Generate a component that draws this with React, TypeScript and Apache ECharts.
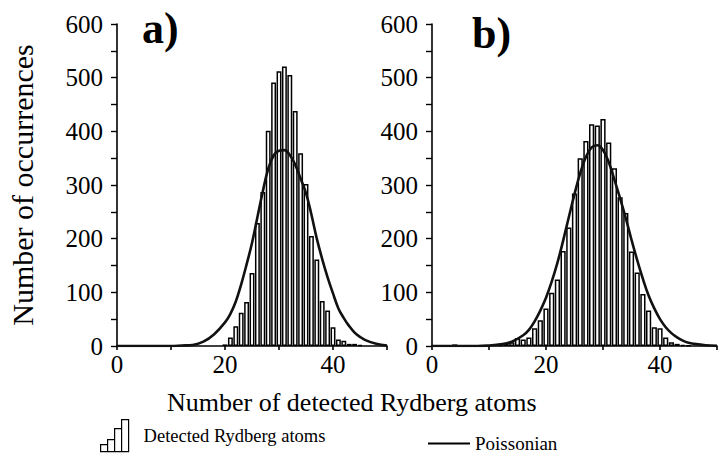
import React, { useEffect, useRef } from "react";
import * as echarts from "echarts";

// Panel a) histogram
const histAX = [20, 21, 22, 23, 24, 25, 26, 27, 28, 29, 30, 31, 32, 33, 34, 35, 36, 37, 38, 39, 40, 41, 42, 43, 44, 45];
const histAY = [3, 16, 37, 62, 82, 136, 229, 287, 401, 491, 512, 521, 505, 438, 359, 302, 205, 161, 84, 66, 35, 12, 10, 4, 4, 2];
// Panel a) Poissonian
const poisAX = [0, 10, 12, 14, 16, 18, 20, 21, 22, 23, 24, 25, 26, 27, 28, 29, 30, 31, 32, 33, 34, 35, 36, 37, 38, 39, 40, 41, 42, 43, 44, 45, 46, 48, 50];
const poisAY = [0, 0, 1, 2, 8, 22, 44, 60, 83, 115, 152, 192, 240, 288, 330, 355, 364, 365, 356, 338, 312, 285, 245, 200, 162, 128, 98, 70, 52, 37, 25, 17, 11, 4, 1];

// Panel b) histogram
const histBX = [4, 12, 13, 14, 15, 16, 17, 18, 19, 20, 21, 22, 23, 24, 25, 26, 27, 28, 29, 30, 31, 32, 33, 34, 35, 36, 37, 38, 39, 40, 41, 42, 43, 44, 45];
const histBY = [3, 2, 4, 7, 15, 12, 16, 33, 48, 70, 99, 124, 177, 221, 284, 350, 382, 413, 411, 423, 379, 331, 277, 248, 176, 137, 97, 66, 35, 33, 16, 7, 4, 2, 1];
// Panel b) Poissonian
const poisBX = [0, 8, 10, 12, 14, 16, 17, 18, 19, 20, 21, 22, 23, 24, 25, 26, 27, 28, 29, 30, 31, 32, 33, 34, 35, 36, 37, 38, 39, 40, 41, 42, 43, 44, 45, 46, 48, 50];
const poisBY = [0, 0, 1, 3, 8, 20, 30, 46, 66, 90, 120, 155, 196, 240, 283, 322, 352, 370, 374, 365, 343, 310, 275, 238, 198, 160, 125, 94, 70, 50, 35, 24, 16, 10, 6, 4, 1.5, 0.5];

const xTicks = [0, 20, 40];
const yTicks = [0, 100, 200, 300, 400, 500, 600];

const SERIF = "Liberation Serif, Times New Roman, serif";

const zip = (xs: number[], ys: number[]) => xs.map((x, i) => [x, ys[i]]);

export default function App() {
  const ref = useRef<HTMLDivElement>(null);
  useEffect(() => {
    if (!ref.current) return;
    const chart = echarts.init(ref.current, null, { renderer: "svg" });
    const axisLine = { show: true, lineStyle: { color: "#000", width: 1.6 } };
    const mkX = (idx: number) => ({
      type: "value",
      gridIndex: idx,
      min: 0,
      max: 50,
      interval: 10,
      axisLine,
      axisTick: { show: true, length: 4, lineStyle: { color: "#000", width: 1.6 } },
      axisLabel: {
        color: "#000",
        fontFamily: SERIF,
        fontSize: 25,
        margin: 6,
        formatter: (v: number) => (xTicks.includes(v) ? String(v) : ""),
      },
      splitLine: { show: false },
    });
    const mkY = (idx: number, name: string) => ({
      type: "value",
      gridIndex: idx,
      min: 0,
      max: 600,
      interval: 50,
      name,
      nameLocation: "middle",
      nameGap: 80,
      nameTextStyle: { color: "#000", fontFamily: SERIF, fontSize: 30 },
      axisLine,
      axisTick: { show: true, length: 6, lineStyle: { color: "#000", width: 1.4 } },
      axisLabel: {
        color: "#000",
        fontFamily: SERIF,
        fontSize: 25,
        margin: 14,
        formatter: (v: number) => (yTicks.includes(v) ? String(v) : ""),
      },
      splitLine: { show: false },
    });
    const barStyle = { color: "#fff", borderColor: "#000", borderWidth: 1.5 };
    const lineStyle = { color: "#111", width: 2.6 };
    chart.setOption({
      animation: false,
      backgroundColor: "#fff",
      title: [
        { text: "a)", left: 137, top: 1, textStyle: { fontFamily: SERIF, fontSize: 44, fontWeight: "bold", color: "#000" } },
        { text: "b)", left: 467, top: 6, textStyle: { fontFamily: SERIF, fontSize: 44, fontWeight: "bold", color: "#000" } },
        { text: "Number of detected Rydberg atoms", left: 162, top: 384, textStyle: { fontFamily: SERIF, fontSize: 26, fontWeight: "normal", color: "#000" } },
      ],
      legend: [
        {
          data: [{ name: "Detected Rydberg atoms", icon: "path://M0,32 L0,25 L7,25 L7,32 Z M7,32 L7,20 L14,20 L14,32 Z M14,32 L14,9 L21,9 L21,32 Z M21,32 L21,0 L28,0 L28,32 Z" }],
          left: 95,
          top: 414,
          itemWidth: 28,
          itemHeight: 32,
          itemStyle: { color: "#fff", borderColor: "#000", borderWidth: 1.2 },
          textStyle: { fontFamily: SERIF, fontSize: 18.5, color: "#000", padding: [0, 0, 0, 10] },
        },
        {
          data: [{ name: "Poissonian", icon: "rect" }],
          left: 423,
          top: 429,
          itemWidth: 42,
          itemHeight: 2,
          itemStyle: { color: "#000" },
          textStyle: { fontFamily: SERIF, fontSize: 19, color: "#000" },
        },
      ],
      grid: [
        { left: 117, top: 24, width: 270, height: 322 },
        { left: 432, top: 24, width: 285, height: 322 },
      ],
      xAxis: [mkX(0), mkX(1)],
      yAxis: [mkY(0, "Number of occurrences"), mkY(1, "")],
      series: [
        {
          type: "bar",
          name: "Detected Rydberg atoms",
          xAxisIndex: 0,
          yAxisIndex: 0,
          barWidth: 4.9,
          itemStyle: barStyle,
          data: zip(histAX, histAY),
        },
        {
          type: "line",
          name: "Poissonian",
          xAxisIndex: 0,
          yAxisIndex: 0,
          smooth: 0.4,
          symbol: "none",
          lineStyle,
          itemStyle: { color: "#000" },
          data: zip(poisAX, poisAY),
        },
        {
          type: "bar",
          name: "Detected Rydberg atoms",
          xAxisIndex: 1,
          yAxisIndex: 1,
          barWidth: 5.2,
          itemStyle: barStyle,
          data: zip(histBX, histBY),
        },
        {
          type: "line",
          name: "Poissonian",
          xAxisIndex: 1,
          yAxisIndex: 1,
          smooth: 0.4,
          symbol: "none",
          lineStyle,
          itemStyle: { color: "#000" },
          data: zip(poisBX, poisBY),
        },
      ],
    });
    return () => chart.dispose();
  }, []);
  return <div ref={ref} style={{ position: "fixed", left: 0, top: 0, width: 726, height: 455 }} />;
}
